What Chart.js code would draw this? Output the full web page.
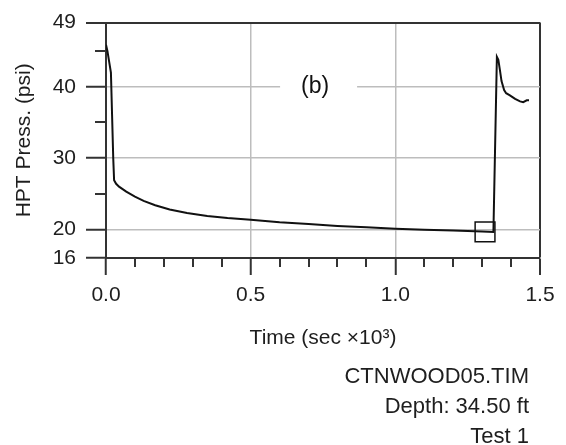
<!DOCTYPE html>
<html>
<head>
<meta charset="utf-8">
<script src="https://cdn.jsdelivr.net/npm/chart.js@4/dist/chart.umd.min.js"></script>
<style>
  html, body { margin: 0; padding: 0; background: #fff; }
  #wrap { width: 566px; height: 445px; }
</style>
</head>
<body>
<div id="wrap"><canvas id="hptChart" width="566" height="445"></canvas></div>
<script>
// time in sec x 10^3, pressure in psi
const timeK = [0, 0.005, 0.017, 0.021, 0.025, 0.028, 0.035, 0.045, 0.07, 0.10, 0.13, 0.17, 0.22, 0.28,
    0.35, 0.42, 0.50, 0.60, 0.70, 0.80, 0.90, 1.00, 1.10, 1.20, 1.30, 1.339, 1.351, 1.356, 1.362,
    1.367, 1.376, 1.383, 1.396, 1.414, 1.431, 1.442, 1.454, 1.462];
const pressPsi = [45.9, 45.0, 42.0, 36.0, 30.0, 26.9, 26.4, 26.0, 25.3, 24.6, 24.0, 23.4, 22.8, 22.3,
    21.9, 21.6, 21.35, 21.0, 20.75, 20.5, 20.3, 20.1, 19.95, 19.85, 19.72, 19.65, 44.2, 43.8, 42.2,
    40.8, 39.55, 39.1, 38.8, 38.3, 37.95, 37.85, 38.1, 38.1];

const markerTime = [1.31];
const markerPress = [19.65];

const xTicks = [0, 0.5, 1.0, 1.5];
const xMinor = [0.1, 0.2, 0.3, 0.4, 0.6, 0.7, 0.8, 0.9, 1.1, 1.2, 1.3, 1.4];
const yTicks = [16, 20, 30, 40, 49];
const yMinor = [25, 35, 45];
const yGrid = [20, 30, 40];

const footerLines = ['CTNWOOD05.TIM', 'Depth: 34.50 ft', 'Test 1'];

const AXIS = '#333';
const GRID = '#bdbdbd';
const FONT = '"Liberation Sans", Arial, Helvetica, sans-serif';

Chart.defaults.font.family = FONT;
Chart.defaults.color = '#1e1e1e';

const extras = {
    id: 'extras',
    beforeDatasetsDraw(chart) {
        const { ctx, scales: { x, y } } = chart;
        // "(b)" label box breaking the 40 grid line
        const cx = x.getPixelForValue(0.733);
        const cy = y.getPixelForValue(40);
        ctx.save();
        ctx.fillStyle = '#fff';
        ctx.fillRect(cx - 38, cy - 13, 77, 26);
        ctx.fillStyle = '#111';
        ctx.font = '23px ' + FONT;
        ctx.textAlign = 'center';
        ctx.textBaseline = 'middle';
        ctx.fillText('(b)', cx - 3, cy);
        ctx.restore();
    },
    afterDraw(chart) {
        const { ctx, scales: { x, y } } = chart;
        ctx.save();
        ctx.strokeStyle = AXIS;
        ctx.lineWidth = 2;
        ctx.beginPath();
        xMinor.forEach(v => {
            const px = Math.round(x.getPixelForValue(v));
            ctx.moveTo(px, y.bottom);
            ctx.lineTo(px, y.bottom + 9);
        });
        yMinor.forEach(v => {
            const py = Math.round(y.getPixelForValue(v));
            ctx.moveTo(x.left, py);
            ctx.lineTo(x.left - 11, py);
        });
        ctx.stroke();

        // file / depth / test note
        ctx.fillStyle = '#1e1e1e';
        ctx.font = '22px ' + FONT;
        ctx.textAlign = 'right';
        ctx.textBaseline = 'middle';
        footerLines.forEach((t, i) => ctx.fillText(t, 529, 377 + i * 30));
        ctx.restore();
    }
};

new Chart(document.getElementById('hptChart'), {
    type: 'scatter',
    data: {
        datasets: [{
            data: timeK.map((t, i) => ({ x: t, y: pressPsi[i] })),
            showLine: true,
            borderColor: '#111',
            borderWidth: 2,
            pointRadius: 0,
            tension: 0
        }, {
            data: markerTime.map((t, i) => ({ x: t, y: markerPress[i] })),
            pointStyle: 'rect',
            pointRadius: 14,
            borderColor: '#111',
            borderWidth: 1.5,
            backgroundColor: 'rgba(0,0,0,0)'
        }]
    },
    options: {
        responsive: false,
        animation: false,
        layout: { padding: { left: 0, top: 17, right: 26, bottom: 0 } },
        plugins: { legend: { display: false }, tooltip: { enabled: false } },
        scales: {
            x: {
                type: 'linear',
                min: 0,
                max: 1.5,
                afterBuildTicks: axis => { axis.ticks = xTicks.map(v => ({ value: v })); },
                afterFit: axis => { axis.height = 187; },
                ticks: {
                    padding: 8,
                    font: { size: 21 },
                    callback: v => v.toFixed(1)
                },
                grid: {
                    color: c => (c.tick && c.tick.value === 1.5 ? AXIS : GRID),
                    lineWidth: c => (c.tick && c.tick.value === 1.5 ? 2 : 1.5),
                    tickColor: AXIS,
                    tickWidth: 2,
                    tickLength: 17
                },
                border: { color: AXIS, width: 2 },
                title: {
                    display: true,
                    text: 'Time (sec \u00d710\u00b3)',
                    font: { size: 21 },
                    padding: { top: 0, bottom: 94 }
                }
            },
            y: {
                min: 16,
                max: 49,
                afterBuildTicks: axis => { axis.ticks = yTicks.map(v => ({ value: v })); },
                afterFit: axis => { axis.width = 106; },
                ticks: {
                    padding: 10,
                    font: { size: 21 },
                    callback: v => String(v)
                },
                grid: {
                    color: c => {
                        const v = c.tick && c.tick.value;
                        if (v === 49) return AXIS;
                        return yGrid.includes(v) ? GRID : 'rgba(0,0,0,0)';
                    },
                    lineWidth: c => (c.tick && c.tick.value === 49 ? 2 : 1.5),
                    tickColor: AXIS,
                    tickWidth: 2,
                    tickLength: 20
                },
                border: { color: AXIS, width: 2 },
                title: {
                    display: true,
                    text: 'HPT Press. (psi)',
                    font: { size: 21 },
                    padding: { top: 12, bottom: 0 }
                }
            }
        }
    },
    plugins: [extras]
});
</script>
</body>
</html>
